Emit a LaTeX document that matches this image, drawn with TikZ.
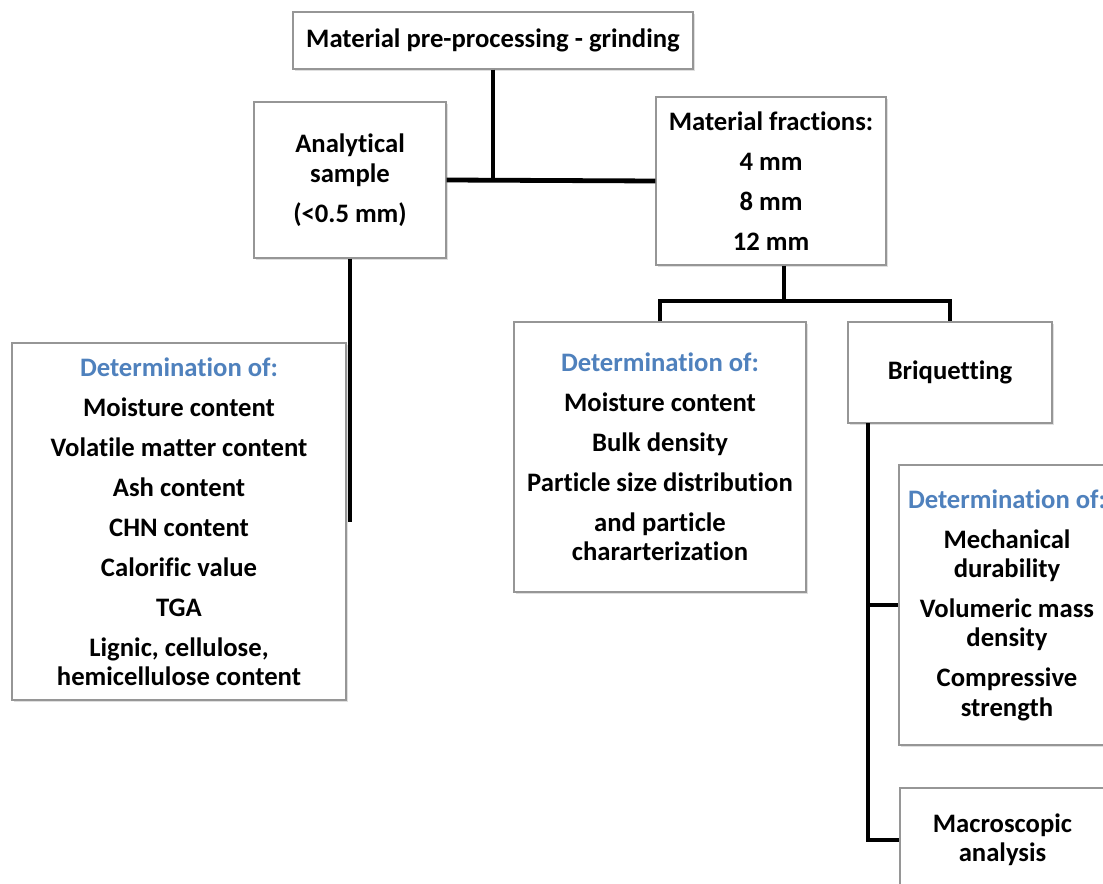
\documentclass[tikz,border=0pt]{standalone}
\usepackage{fontspec}
\setmainfont{Carlito}[Ligatures={NoCommon,NoContextual}]
\usetikzlibrary{shadows}
\definecolor{detblue}{RGB}{79,129,189}
\definecolor{boxgray}{RGB}{150,150,150}
\begin{document}
\begin{tikzpicture}[x=0.75pt,y=-0.75pt,
  box/.style 2 args={draw=boxgray,line width=0.9pt,fill=white,inner sep=0pt,align=center,
    minimum width=#1*0.75pt,minimum height=#2*0.75pt,
    font=\fontsize{20}{22}\selectfont\bfseries,
    drop shadow={shadow xshift=1.5pt,shadow yshift=-1.5pt,opacity=0.25}},
  conn/.style={line width=3.6pt,line cap=butt}]
\clip (0,0) rectangle (1103,884);
\fill[white] (0,0) rectangle (1103,884);
\node[box={400}{57}] (t) at (493,40.5) {Material pre-processing - grinding};
\node[box={192}{156}] (a) at (350,180) {Analytical\\sample\\[8pt](\textless0.5 mm)};
\node[box={230}{168}] (f) at (771,181) {Material fractions:\\[8pt]4 mm\\[8pt]8 mm\\[8pt]12 mm};
\node[box={334}{357}] (l) at (179,521.5) {\textcolor{detblue}{Determination of:}\\[8pt]Moisture content\\[8pt]Volatile matter content\\[8pt]Ash content\\[8pt]CHN content\\[8pt]Calorific value\\[8pt]TGA\\[8pt]Lignic, cellulose,\\hemicellulose content};
\node[box={292}{270}] (m) at (660,457) {\textcolor{detblue}{Determination of:}\\[8pt]Moisture content\\[8pt]Bulk density\\[8pt]Particle size distribution\\[8pt]and particle\\chararterization};
\node[box={204}{101}] (b) at (950,372.5) {Briquetting};
\node[box={216}{280}] (r) at (1007,605) {\textcolor{detblue}{Determination of:}\\[8pt]Mechanical\\durability\\[8pt]Volumeric mass\\density\\[8pt]Compressive\\strength};
\node[box={205}{104}] (mac) at (1002.5,840) {Macroscopic\\analysis};
% connectors
\draw[conn] (a.east) -- (f.west);
\draw[conn] (t.south) -- (t.south |- a.east);
\coordinate (aend) at (350,522);
\draw[conn] (a.south) -- (aend);
\coordinate (fj) at (784,301);
\draw[conn] (f.south -| fj) -- (fj);
\draw[conn,line join=miter] (m.north) -- (m.north |- fj) -| (b.north);
\coordinate (bj) at (868,423);
\draw[conn,line join=miter] (bj) |- (mac.west);
\draw[conn] (bj |- r.west) -- (r.west);
\end{tikzpicture}
\end{document}
